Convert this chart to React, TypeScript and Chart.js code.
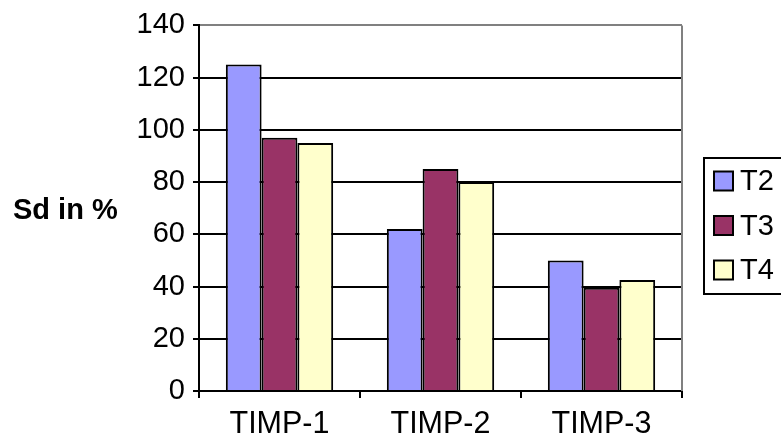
import React, { useEffect, useRef } from "react";
import { Chart, registerables } from "chart.js";

Chart.register(...registerables);

const categories = ["TIMP-1", "TIMP-2", "TIMP-3"];
const seriesNames = ["T2", "T3", "T4"];
const t2Values = [125, 62, 50];
const t3Values = [97, 85, 39.5];
const t4Values = [95, 80, 42.5];
const seriesColors = ["#9999FF", "#993366", "#FFFFCC"];
const yMin = 0;
const yMax = 140;
const yStep = 20;
const yAxisTitle = "Sd in %";

const FONT = "'Liberation Sans', Arial, sans-serif";

const decorPlugin = {
  id: "decor",
  beforeDraw(chart: any) {
    const { ctx } = chart;
    ctx.save();
    ctx.fillStyle = "#ffffff";
    ctx.fillRect(0, 0, chart.width, chart.height);
    ctx.restore();
  },
  beforeDatasetsDraw(chart: any) {
    const { ctx, chartArea } = chart;
    ctx.save();
    ctx.strokeStyle = "#808080";
    ctx.lineWidth = 2;
    ctx.beginPath();
    ctx.moveTo(chartArea.right, chartArea.top);
    ctx.lineTo(chartArea.right, chartArea.bottom);
    ctx.stroke();
    ctx.restore();
  },
  afterDraw(chart: any) {
    const { ctx } = chart;
    ctx.save();
    // y-axis title
    ctx.fillStyle = "#000";
    ctx.font = `bold 29px ${FONT}`;
    ctx.textAlign = "left";
    ctx.textBaseline = "alphabetic";
    ctx.fillText(yAxisTitle, 13, 219);

    // legend
    ctx.lineWidth = 2;
    ctx.strokeStyle = "#000";
    ctx.strokeRect(704, 158, 100, 136);
    const datasets = chart.data.datasets;
    const centers = [181, 225.5, 270];
    datasets.forEach((ds: any, i: number) => {
      const cy = centers[i];
      ctx.fillStyle = ds.backgroundColor;
      ctx.fillRect(714, cy - 9.5, 19, 19);
      ctx.strokeStyle = "#000";
      ctx.strokeRect(714, cy - 9.5, 19, 19);
      ctx.fillStyle = "#000";
      ctx.font = `29px ${FONT}`;
      ctx.textBaseline = "middle";
      ctx.fillText(ds.label, 740, cy + 1);
    });
    ctx.restore();
  },
};

export default function App() {
  const ref = useRef<HTMLCanvasElement | null>(null);

  useEffect(() => {
    if (!ref.current) return;
    document.body.style.margin = "0";
    const values = [t2Values, t3Values, t4Values];
    const chart = new Chart(ref.current, {
      type: "bar",
      data: {
        labels: categories,
        datasets: seriesNames.map((name, i) => ({
          label: name,
          data: values[i],
          backgroundColor: seriesColors[i],
          borderColor: "#000000",
          borderWidth: 2,
          categoryPercentage: 2 / 3,
          barPercentage: 1,
        })),
      },
      options: {
        responsive: false,
        animation: false,
        devicePixelRatio: 1,
        layout: { padding: { top: 24, right: 99, left: 0, bottom: 0 } },
        plugins: {
          legend: { display: false },
          tooltip: { enabled: false },
          title: { display: false },
        },
        scales: {
          x: {
            grid: {
              offset: true,
              drawOnChartArea: false,
              drawTicks: true,
              tickLength: 7,
              tickColor: "#000",
              tickWidth: 2,
              lineWidth: 2,
              color: "#000",
            },
            border: { display: true, color: "#000", width: 2 },
            ticks: {
              font: { family: FONT, size: 30.5 },
              color: "#000",
              padding: 8,
              maxRotation: 0,
            },
            afterFit: (s: any) => {
              s.height = 49;
            },
          },
          y: {
            min: yMin,
            max: yMax,
            ticks: {
              stepSize: yStep,
              font: { family: FONT, size: 29 },
              color: "#000",
              padding: 8,
            },
            grid: {
              color: (c: any) => (c.tick && c.tick.value === yMax ? "#808080" : "#000"),
              lineWidth: 2,
              tickLength: 6,
              tickColor: "#000",
              tickWidth: 2,
            },
            border: { display: true, color: "#000", width: 2 },
            afterFit: (s: any) => {
              s.width = 199;
            },
          },
        },
      },
      plugins: [decorPlugin],
    });
    return () => chart.destroy();
  }, []);

  return (
    <div style={{ position: "absolute", left: 0, top: 0, width: 781, height: 440 }}>
      <canvas ref={ref} width={781} height={440} />
    </div>
  );
}
